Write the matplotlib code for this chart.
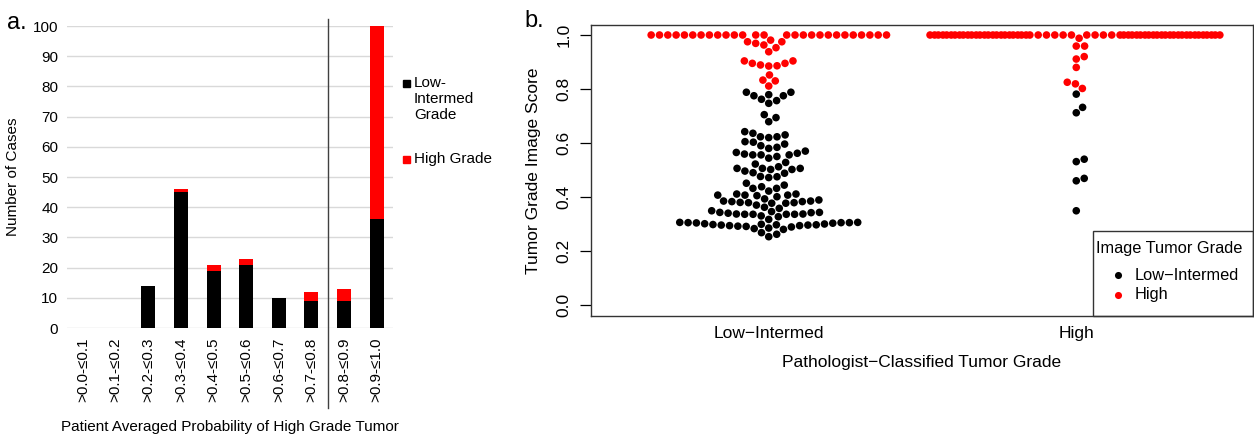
import numpy as np
import matplotlib
matplotlib.use("Agg")
import matplotlib.pyplot as plt
from matplotlib.patches import Rectangle
import matplotlib.transforms as mtransforms

plt.rcParams['font.family'] = ['Liberation Sans', 'DejaVu Sans']

# ---------------- data: panel a ----------------
prob_bins = ['>0.0-≤0.1', '>0.1-≤0.2', '>0.2-≤0.3', '>0.3-≤0.4', '>0.4-≤0.5',
             '>0.5-≤0.6', '>0.6-≤0.7', '>0.7-≤0.8', '>0.8-≤0.9', '>0.9-≤1.0']
low_intermed_counts = [0, 0, 14, 45, 19, 21, 10, 9, 9, 36]
high_grade_counts = [0, 0, 0, 1, 2, 2, 0, 3, 4, 64]

# ---------------- data: panel b ----------------
group_labels = ['Low\u2212Intermed', 'High']
legend_labels = ['Low\u2212Intermed', 'High']

li_black_scores = [
    0.788, 0.775, 0.762, 0.779, 0.757, 0.775, 0.788, 0.747,
    0.705, 0.694, 0.679,
    0.636, 0.630, 0.620, 0.642, 0.623, 0.623,
    0.605, 0.590, 0.584, 0.603, 0.580, 0.596,
    0.565, 0.556, 0.556, 0.550, 0.562, 0.544, 0.556, 0.559, 0.570,
    0.528, 0.522,
    0.506, 0.490, 0.506, 0.496, 0.502, 0.506, 0.488, 0.502, 0.512,
    0.476, 0.472, 0.475,
    0.451, 0.438, 0.444,
    0.432, 0.432, 0.407, 0.407, 0.407, 0.405, 0.401, 0.411, 0.422, 0.411,
    0.393, 0.383, 0.377, 0.385, 0.379, 0.379, 0.370, 0.377, 0.383, 0.389, 0.380, 0.385,
    0.362, 0.358, 0.349, 0.343, 0.337, 0.330, 0.336, 0.327, 0.337, 0.317,
    0.342, 0.336, 0.336, 0.340, 0.336, 0.343, 0.346,
    0.306, 0.305, 0.305, 0.304, 0.300, 0.298, 0.297, 0.296, 0.294, 0.291,
    0.289, 0.292, 0.294, 0.296, 0.297, 0.299, 0.301, 0.303, 0.305, 0.306,
    0.280, 0.268, 0.253, 0.262, 0.285, 0.283,
]
li_red_scores = [
    1.0, 1.0, 1.0, 1.0, 1.0, 1.0, 1.0, 1.0, 1.0, 1.0,
    1.0, 1.0, 1.0, 1.0, 1.0, 1.0, 1.0, 1.0, 1.0, 1.0,
    1.0, 1.0, 1.0, 1.0, 1.0, 1.0, 1.0,
    0.975, 0.969, 0.963, 0.981, 0.953, 0.975, 0.938,
    0.904, 0.895, 0.889, 0.885, 0.886, 0.895, 0.904,
    0.852, 0.833, 0.830, 0.811,
]
hi_black_scores = [0.781, 0.712, 0.732, 0.531, 0.540, 0.460, 0.469, 0.349]
hi_red_scores = [
    0.988, 0.959, 0.959, 0.920, 0.911, 0.880, 0.825, 0.819, 0.802,
    1.0, 1.0, 1.0, 1.0, 1.0, 1.0, 1.0, 1.0, 1.0, 1.0,
    1.0, 1.0, 1.0, 1.0, 1.0, 1.0, 1.0, 1.0, 1.0, 1.0,
    1.0, 1.0, 1.0, 1.0, 1.0, 1.0, 1.0, 1.0, 1.0, 1.0,
    1.0, 1.0, 1.0, 1.0, 1.0, 1.0, 1.0, 1.0, 1.0, 1.0,
    1.0, 1.0, 1.0, 1.0, 1.0, 1.0, 1.0, 1.0, 1.0, 1.0,
    1.0, 1.0, 1.0, 1.0, 1.0, 1.0, 1.0, 1.0, 1.0,
]

W, H = 1254, 436
fig = plt.figure(figsize=(W / 100, H / 100), dpi=100)


def fx(px):
    return px / W


def fy(py):
    return 1 - py / H


# ================= panel a =================
axL = fig.add_axes([fx(66.7), fy(328), (393 - 66.7) / W, 302 / H])
xpos = np.arange(len(prob_bins))
axL.bar(xpos, low_intermed_counts, width=0.43, color='black', zorder=2)
axL.bar(xpos, high_grade_counts, bottom=low_intermed_counts, width=0.43,
        color='#FF0000', zorder=2)
axL.set_xlim(-0.5, len(prob_bins) - 0.5)
axL.set_ylim(0, 100)
axL.set_yticks(range(0, 101, 10))
axL.yaxis.grid(True, color='#D9D9D9', lw=1.0, zorder=0)
axL.set_axisbelow(True)
for s in axL.spines.values():
    s.set_visible(False)
axL.tick_params(length=0, labelsize=11, colors='black')
axL.tick_params(axis='y', pad=6)
axL.tick_params(axis='x', pad=7)
axL.set_xticks(xpos)
axL.set_xticklabels(prob_bins, rotation=90, ha='center', va='top')
axL.set_ylabel('Number of Cases', fontsize=11, labelpad=9)
axL.set_xlabel('Patient Averaged Probability of High Grade Tumor', fontsize=11,
               labelpad=13)
# separator line between 0.8 bins
trans = mtransforms.blended_transform_factory(axL.transData, axL.transAxes)
axL.plot([7.5, 7.5], [1.023, -0.265], color='#404040', lw=1.0,
         transform=trans, clip_on=False, zorder=3)

# legend a
fig.add_artist(Rectangle((fx(403), fy(87.5)), 7 / W, 7 / H, transform=fig.transFigure,
                         color='black'))
fig.text(fx(414), fy(76), 'Low-\nIntermed\nGrade', fontsize=11, va='top', ha='left',
         linespacing=1.18)
fig.add_artist(Rectangle((fx(403), fy(163)), 7 / W, 7 / H, transform=fig.transFigure,
                         color='#FF0000'))
fig.text(fx(414), fy(159), 'High Grade', fontsize=11, va='center', ha='left')

fig.text(fx(7), fy(29), 'a.', fontsize=17, ha='left', va='baseline')
fig.text(fx(524), fy(27), 'b.', fontsize=17, ha='left', va='baseline')

# ================= panel b =================
axR = fig.add_axes([fx(591), fy(316), 662 / W, 291 / H])
y_lo, y_hi = -11 / 270, 1 + 10 / 270
x_lo, x_hi = 1 - 178 / 308, 2 + 177 / 308
axR.set_xlim(x_lo, x_hi)
axR.set_ylim(y_lo, y_hi)

PX_PER_Y = 270.0
PX_PER_X = 308.0
D = 8.33  # point spacing in pixels
HALF_CORRAL = 147.0


def swarm_offsets(values):
    ypx = np.asarray(values) * PX_PER_Y
    order = np.argsort(ypx, kind='stable')
    xs = np.zeros(len(ypx))
    placed = []
    for i in order:
        y = ypx[i]
        near = [(px, py) for px, py in placed if abs(py - y) < D]
        cands = [0.0]
        for px, py in near:
            dx = np.sqrt(D * D - (py - y) ** 2)
            cands += [px + dx, px - dx]
        cands.sort(key=abs)
        for c in cands:
            if all((c - px) ** 2 + (y - py) ** 2 >= D * D - 1e-6 for px, py in near):
                xs[i] = c
                break
        placed.append((xs[i], y))
    # wrap corral
    xs = np.where(np.abs(xs) > HALF_CORRAL,
                  ((xs + HALF_CORRAL) % (2 * HALF_CORRAL)) - HALF_CORRAL, xs)
    return xs / PX_PER_X


groups = [(li_black_scores, li_red_scores), (hi_black_scores, hi_red_scores)]
for gi, (blk, red) in enumerate(groups):
    vals = list(blk) + list(red)
    cols = ['black'] * len(blk) + ['#FF0000'] * len(red)
    offs = swarm_offsets(vals)
    axR.scatter(gi + 1 + offs, vals, s=30, c=cols, linewidths=0, zorder=3)

axR.set_yticks([0.0, 0.2, 0.4, 0.6, 0.8, 1.0])
axR.set_yticklabels(['0.0', '0.2', '0.4', '0.6', '0.8', '1.0'])
plt.setp(axR.get_yticklabels(), rotation=90, va='center')
axR.tick_params(axis='y', length=8, width=0.9, pad=6, labelsize=12.5, colors='black')
axR.set_xticks([1, 2])
axR.set_xticklabels(group_labels)
axR.tick_params(axis='x', length=0, pad=7, labelsize=12.5)
for s in axR.spines.values():
    s.set_color('#333333')
    s.set_linewidth(1.0)
axR.set_ylabel('Tumor Grade Image Score', fontsize=12.5, labelpad=11)
axR.set_xlabel('Pathologist\u2212Classified Tumor Grade', fontsize=12.5, labelpad=10)

# legend b (drawn manually)
bx0 = (1093 - 591) / 662
by1 = (316 - 231) / 291
axR.add_patch(Rectangle((bx0, 0), 1 - bx0, by1, transform=axR.transAxes, fill=False,
                        edgecolor='#333333', lw=1.0, clip_on=False, zorder=5))
axR.text((1096 - 591) / 662, (316 - 248) / 291, 'Image Tumor Grade', fontsize=11.8,
         transform=axR.transAxes, ha='left', va='center')
leg_cols = ['black', '#FF0000']
leg_y = [(316 - 275) / 291, (316 - 295) / 291]
for lab, col, yy in zip(legend_labels, leg_cols, leg_y):
    axR.scatter([(1118 - 591) / 662], [yy], s=26, c=col, linewidths=0,
                transform=axR.transAxes, clip_on=False, zorder=6)
    axR.text((1135 - 591) / 662, yy, lab, fontsize=11.8, transform=axR.transAxes,
             ha='left', va='center')

fig.savefig('out.png', dpi=100)
